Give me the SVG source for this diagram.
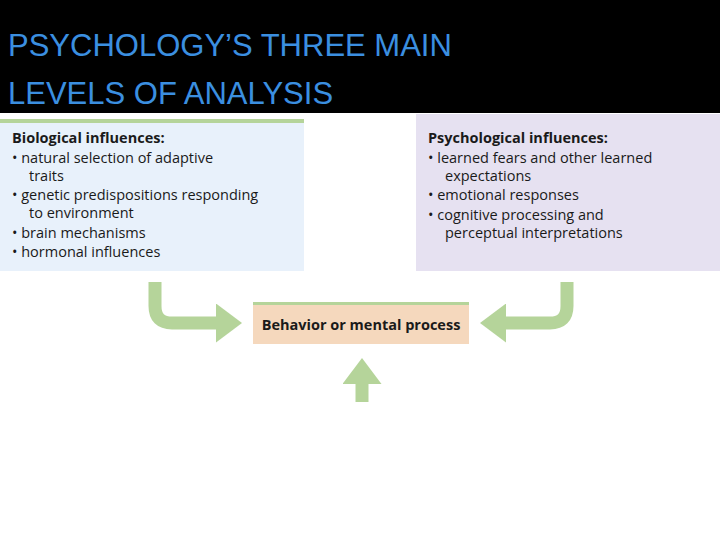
<svg xmlns="http://www.w3.org/2000/svg" width="720" height="540" viewBox="0 0 720 540">
<style>
.t{font-family:"Open Sans","Liberation Sans",sans-serif;font-size:14.5px;fill:#1a1a1a}
.h{font-weight:bold}
.title{font-family:"Liberation Sans",Arial,sans-serif;font-size:31px;fill:#3b8fe0}
.arr{fill:none;stroke:#b5d49a;stroke-width:13}
</style>
<defs><marker id="ah" markerWidth="3" markerHeight="3" refX="1" refY="1.5" orient="auto" markerUnits="strokeWidth"><path d="M0,0L2,1.5L0,3Z" fill="#b5d49a"/></marker></defs>
<rect width="720" height="540" fill="#fff"/>
<rect width="720" height="113" fill="#000"/>
<text class="title" x="8" y="56">PSYCHOLOGY’S THREE MAIN</text>
<text class="title" x="8" y="104">LEVELS OF ANALYSIS</text>
<g id="bio">
<rect x="0" y="119" width="304" height="152" fill="#e8f1fb"/>
<rect x="0" y="119" width="304" height="4" fill="#b5d49a"/>
<text class="t h" x="12" y="143">Biological influences:</text>
<text class="t" x="12" y="163">•  natural selection of adaptive</text>
<text class="t" x="29" y="181">traits</text>
<text class="t" x="12" y="200">•  genetic predispositions responding</text>
<text class="t" x="29" y="218">to environment</text>
<text class="t" x="12" y="238">•  brain mechanisms</text>
<text class="t" x="12" y="257">•  hormonal influences</text>
</g>
<g id="psy">
<rect x="416" y="114" width="304" height="157" fill="#e6e1f1"/>
<text class="t h" x="428" y="143">Psychological influences:</text>
<text class="t" x="428" y="163">•  learned fears and other learned</text>
<text class="t" x="445" y="181">expectations</text>
<text class="t" x="428" y="200">•  emotional responses</text>
<text class="t" x="428" y="220">•  cognitive processing and</text>
<text class="t" x="445" y="238">perceptual interpretations</text>
</g>
<g id="beh">
<rect x="253" y="302" width="216" height="42" fill="#f5d8bd"/>
<rect x="253" y="302" width="216" height="3" fill="#b5d49a"/>
<text class="t h" x="361" y="330" text-anchor="middle">Behavior or mental process</text>
</g>
<g id="connectors">
<path class="arr" d="M155,282V306Q155,323 172,323H229" marker-end="url(#ah)"/>
<path class="arr" d="M567,282V306Q567,323 550,323H493" marker-end="url(#ah)"/>
<path class="arr" d="M362,402V371" marker-end="url(#ah)"/>
</g>
</svg>
